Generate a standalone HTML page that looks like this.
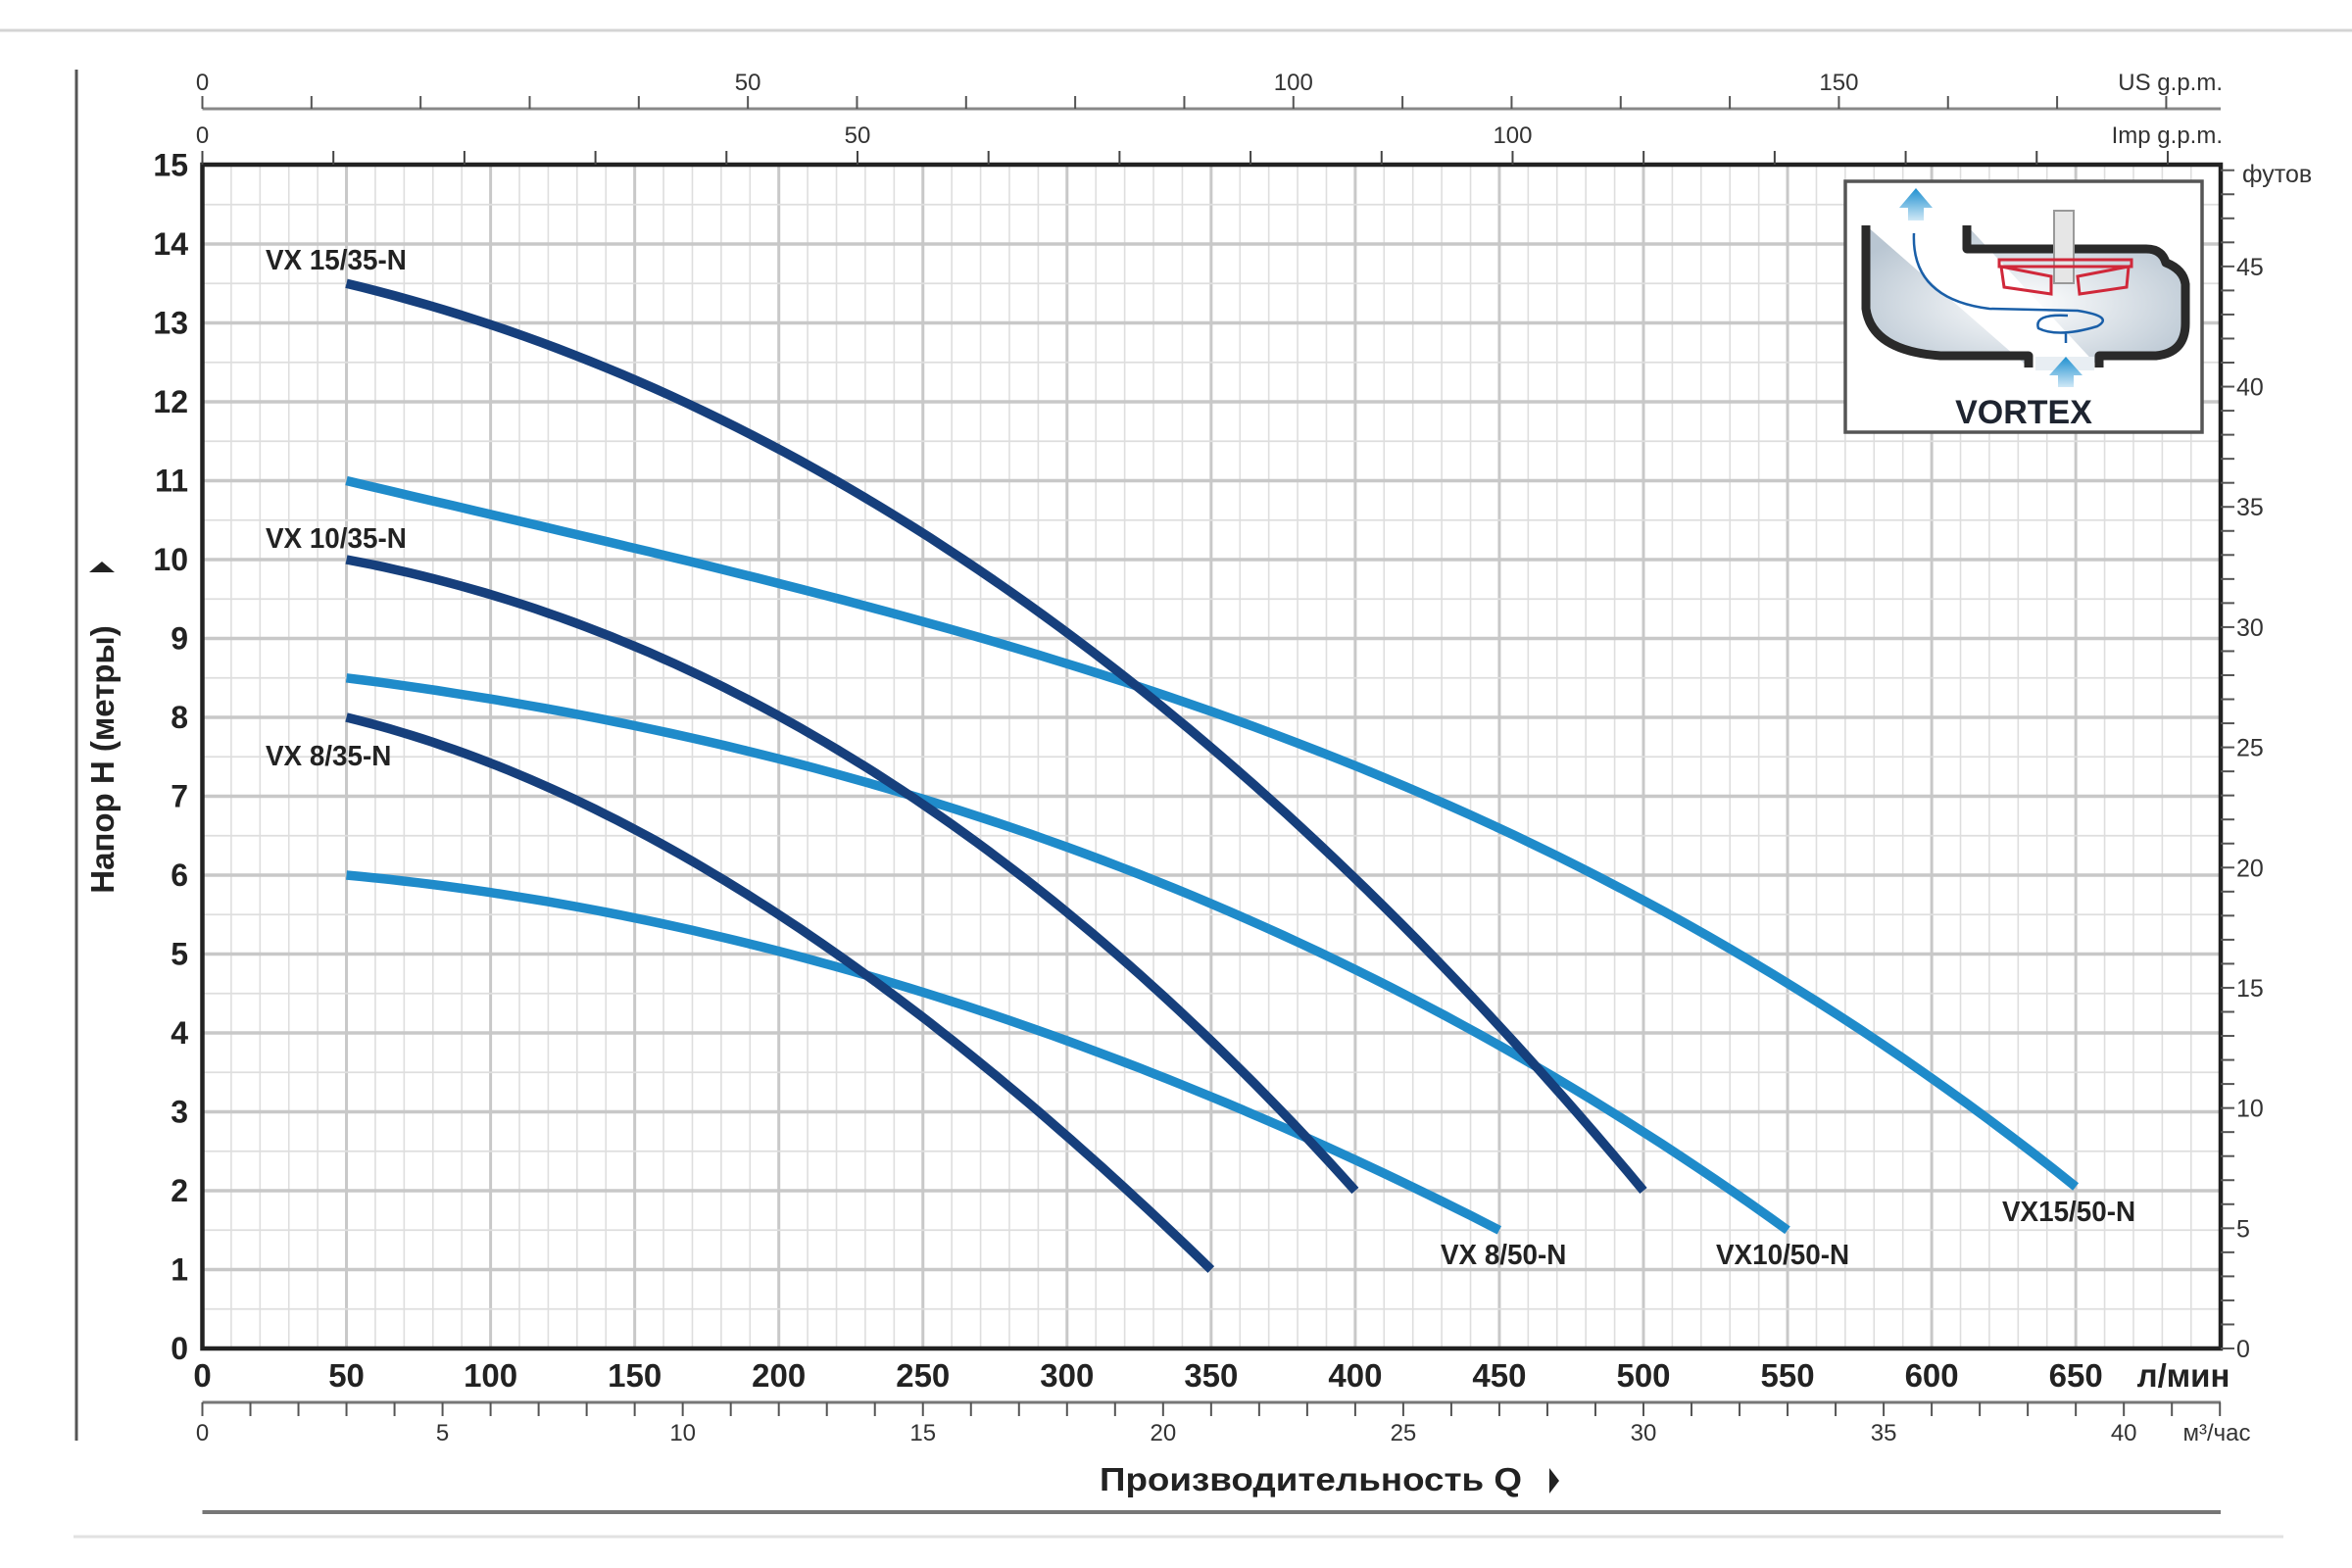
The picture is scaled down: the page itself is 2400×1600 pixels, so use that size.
<!DOCTYPE html>
<html><head><meta charset="utf-8">
<style>
html,body{margin:0;padding:0;background:#fff;}
svg{display:block;}
text{font-family:"Liberation Sans",sans-serif;}
</style></head>
<body>
<svg id="s" xmlns="http://www.w3.org/2000/svg" width="2400" height="1600" viewBox="0 0 2400 1600">
<defs>
<radialGradient id="hg" cx="0.5" cy="0.55" r="0.6">
<stop offset="0" stop-color="#ffffff"/><stop offset="1" stop-color="#b9c6d2"/>
</radialGradient>
<linearGradient id="ag" x1="0" y1="0" x2="0" y2="1">
<stop offset="0" stop-color="#1e90d0"/><stop offset="1" stop-color="#cfe8f6"/>
</linearGradient>
</defs>
<g id="g"></g>
</svg>
<script>
var NS="http://www.w3.org/2000/svg",G=document.getElementById('g');
function el(t,a,txt){var e=document.createElementNS(NS,t);for(var k in a)e.setAttribute(k,a[k]);if(txt!==undefined)e.textContent=txt;G.appendChild(e);return e;}
var X0=206.5,KX=2.941,Y0=1376,KY=80.5,XR=2266,YT=168;
function px(q){return X0+q*KX;} function py(h){return Y0-h*KY;}
el('line',{x1:0,y1:31,x2:2400,y2:31,stroke:'#d4d4d4','stroke-width':3});
el('line',{x1:75,y1:1568,x2:2330,y2:1568,stroke:'#e2e2e2','stroke-width':3});
el('line',{x1:78,y1:71,x2:78,y2:1470,stroke:'#555','stroke-width':3});
for(var q=10;q<700;q+=10){var m=q%50==0;el('line',{x1:px(q),y1:YT,x2:px(q),y2:Y0,stroke:m?'#c8c8c8':'#dedede','stroke-width':m?3:1.6});}
for(var h=0.5;h<15;h+=0.5){var m=h%1==0;el('line',{x1:X0,y1:py(h),x2:XR,y2:py(h),stroke:m?'#c8c8c8':'#dedede','stroke-width':m?3.5:1.8});}
el('rect',{x:X0,y:YT,width:XR-X0,height:Y0-YT,fill:'none',stroke:'#222','stroke-width':4.5});
for(var h=0;h<=15;h++){el('text',{x:192,y:py(h)+11,'text-anchor':'end','font-size':32,'font-weight':'bold',fill:'#222'},h);}
for(var q=0;q<=650;q+=50){el('text',{x:px(q),y:1415,'text-anchor':'middle','font-size':33,'font-weight':'bold',fill:'#222'},q);}
el('text',{x:2228,y:1415,'text-anchor':'middle','font-size':33,'font-weight':'bold',fill:'#222'},'л/мин');
el('line',{x1:X0,y1:1431,x2:XR,y2:1431,stroke:'#777','stroke-width':3});
for(var i=0;i<=42;i++){var x=px(i*16.6667);el('line',{x1:x,y1:1431,x2:x,y2:1445,stroke:'#555','stroke-width':2});if(i%5==0)el('text',{x:x,y:1470,'text-anchor':'middle','font-size':24,fill:'#333'},i);}
el('text',{x:2262,y:1470,'text-anchor':'middle','font-size':24,fill:'#333'},'м³/час');
el('text',{x:1122,y:1521,'font-size':33,'font-weight':'bold',fill:'#222',textLength:431,lengthAdjust:'spacingAndGlyphs'},'Производительность  Q');
el('path',{d:'M1581,1498 l10,13 l-10,13 z',fill:'#222'});
el('line',{x1:X0,y1:1543,x2:XR,y2:1543,stroke:'#777','stroke-width':4});
el('line',{x1:X0,y1:111,x2:XR,y2:111,stroke:'#888','stroke-width':3});
for(var i=0;i<=184;i+=10){var x=px(i*3.7854);el('line',{x1:x,y1:98,x2:x,y2:111,stroke:'#555','stroke-width':2});if(i%50==0)el('text',{x:x,y:92,'text-anchor':'middle','font-size':24,fill:'#333'},i);}
el('text',{x:2268,y:92,'text-anchor':'end','font-size':24,fill:'#333'},'US g.p.m.');
for(var i=0;i<=150;i+=10){var x=px(i*4.546);el('line',{x1:x,y1:154,x2:x,y2:168,stroke:'#444','stroke-width':2});if(i%50==0&&i<150)el('text',{x:x,y:146,'text-anchor':'middle','font-size':24,fill:'#333'},i);}
el('text',{x:2268,y:146,'text-anchor':'end','font-size':24,fill:'#333'},'Imp g.p.m.');
for(var f=0;f<=49;f++){var y=py(f*0.3048);el('line',{x1:XR,y1:y,x2:XR+14,y2:y,stroke:'#555','stroke-width':2});if(f%5==0)el('text',{x:XR+16,y:y+9,'font-size':25,fill:'#333'},f);}
el('text',{x:2288,y:186,'font-size':25,fill:'#333'},'футов');
el('text',{x:0,y:0,'text-anchor':'middle','font-size':33,'font-weight':'bold',fill:'#222',transform:'translate(116,775) rotate(-90)'},'Напор H (метры)');
el('path',{d:'M91,584 l13,-11 l13,11 z',fill:'#222'});
function lag(pts,q){var s=0;for(var i=0;i<pts.length;i++){var p=pts[i][1];for(var j=0;j<pts.length;j++)if(j!=i)p*=(q-pts[j][0])/(pts[i][0]-pts[j][0]);s+=p;}return s;}
function curve(pts,col){var a=pts[0][0],b=pts[pts.length-1][0],d='';for(var k=0;k<=80;k++){var q=a+(b-a)*k/80;d+=(k?'L':'M')+px(q).toFixed(1)+','+py(lag(pts,q)).toFixed(1);}el('path',{d:d,fill:'none',stroke:col,'stroke-width':9.5});}
var DK='#163f7c',LT='#1f8bca';
curve([[50,11],[324,8.4],[500,5.68],[650,2.05]],LT);
curve([[50,8.5],[245,7.02],[462,3.59],[550,1.5]],LT);
curve([[50,6],[230.5,4.73],[385,2.64],[450,1.5]],LT);
curve([[50,13.5],[200,11.4],[324,8.4],[500,2]],DK);
curve([[50,10],[150,8.9],[245,7.02],[400,2]],DK);
curve([[50,8],[150,6.58],[230.5,4.73],[350,1]],DK);
function lab(x,y,t){el('text',{x:x,y:y,'font-size':29,'font-weight':'bold',fill:'#222',transform:'translate('+x+','+y+') scale(0.96,1) translate('+(-x)+','+(-y)+')'},t);}
lab(271,275,'VX 15/35-N');lab(271,559,'VX 10/35-N');lab(271,781,'VX 8/35-N');
lab(1470,1290,'VX 8/50-N');lab(1751,1290,'VX10/50-N');lab(2043,1246,'VX15/50-N');
el('rect',{x:1883,y:185,width:364,height:256,fill:'#fff',stroke:'#555','stroke-width':3.5});
el('path',{d:'M1904,230 L1904,315 Q1910,358 1980,363 L2070,363 L2070,375 M2142,375 L2142,363 L2200,363 Q2230,360 2230,330 L2230,290 Q2228,275 2210,268 Q2206,254 2190,254 L2007,254 L2007,230',fill:'url(#hg)',stroke:'#2a2a2a','stroke-width':9,'stroke-linejoin':'round'});
el('rect',{x:2077,y:364,width:60,height:14,fill:'#e8eef3'});
el('rect',{x:2096,y:215,width:20,height:74,fill:'#e6e6e6',stroke:'#999','stroke-width':2});
el('path',{d:'M2040,265 L2175,265 L2175,272 L2040,272 Z M2042,272 L2093,282 L2093,300 L2045,293 Z M2120,282 L2172,272 L2170,293 L2122,300 Z',fill:'none',stroke:'#d0283a','stroke-width':3});
el('path',{d:'M1953,238 Q1950,305 2030,315 L2120,317 Q2158,323 2140,333 Q2100,345 2080,335 Q2075,320 2110,322 M2108,340 L2108,350',fill:'none',stroke:'#1a5fa8','stroke-width':2.5});
el('path',{d:'M1955,192 L1972,212 L1963,212 L1963,225 L1947,225 L1947,212 L1938,212 Z',fill:'url(#ag)'});
el('path',{d:'M2108,364 L2125,383 L2116,383 L2116,395 L2100,395 L2100,383 L2091,383 Z',fill:'url(#ag)'});
el('text',{x:2065,y:432,'text-anchor':'middle','font-size':34,'font-weight':'bold',fill:'#1e2430'},'VORTEX');
</script>
</body></html>
